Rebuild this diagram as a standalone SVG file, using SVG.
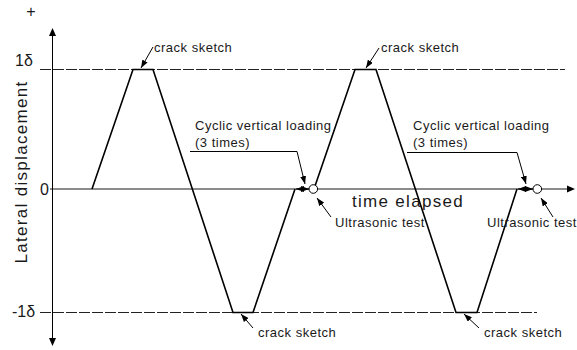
<svg xmlns="http://www.w3.org/2000/svg" width="577" height="350" viewBox="0 0 577 350">
  <defs>
    <marker id="head" viewBox="0 0 8 6" refX="8" refY="3" markerWidth="8" markerHeight="6" markerUnits="userSpaceOnUse" orient="auto-start-reverse">
      <path d="M0,0 L8,3 L0,6 z" fill="#000"/>
    </marker>
    <style>
      .lbl { font-family: "Liberation Sans", Arial, sans-serif; font-size: 13px; letter-spacing: 0.5px; fill: #1a1a1a; }
      .big { font-family: "Liberation Sans", Arial, sans-serif; font-size: 17px; letter-spacing: 1.3px; fill: #1a1a1a; }
      .ax { font-family: "Liberation Sans", Arial, sans-serif; font-size: 16px; fill: #1a1a1a; }
      .lead { fill: none; stroke: #000; stroke-width: 1; marker-end: url(#head); }
      .limit { fill: none; stroke: #222; stroke-width: 1; stroke-dasharray: 11 2; }
      .wave { fill: none; stroke: #000; stroke-width: 1.6; stroke-linejoin: miter; }
    </style>
  </defs>
  <rect width="577" height="350" fill="#fff"/>

  <!-- axes and limit lines -->
  <g id="axes">
    <line class="limit" x1="40" y1="69.5" x2="565" y2="69.5"/>
    <line class="limit" x1="40" y1="312.5" x2="537" y2="312.5"/>
    <line x1="50" y1="189" x2="568" y2="189" stroke="#666" stroke-width="1.6"/>
    <path d="M567,185.5 L575,189 L567,192.5 z" fill="#000"/>
    <line x1="52.5" y1="36" x2="52.5" y2="338" stroke="#000" stroke-width="1"/>
    <path d="M49,36 L52.5,28 L56,36 z" fill="#000"/>
    <path d="M49,338 L52.5,346 L56,338 z" fill="#000"/>
    <text class="ax" x="31" y="17" text-anchor="middle" font-size="14">+</text>
    <text class="ax" x="15" y="66">1δ</text>
    <text class="ax" x="40" y="195">0</text>
    <text class="ax" x="12" y="317">-1δ</text>
    <text class="big" transform="translate(27,172) rotate(-90)" text-anchor="middle">Lateral displacement</text>
    <text class="big" x="352" y="207">time elapsed</text>
  </g>

  <!-- displacement history -->
  <g id="history">
    <polyline class="wave" points="92,189 133,69.5 153,69.5 233,312.5 253,312.5 295,189"/>
    <polyline class="wave" points="314,189 355,69.5 376,69.5 456,312.5 477,312.5 517,189"/>
  </g>

  <!-- ultrasonic test points -->
  <g id="test-1">
    <circle cx="313.3" cy="189" r="4.3" fill="#fff" stroke="#000" stroke-width="1"/>
  </g>
  <g id="test-2">
    <circle cx="537.3" cy="189" r="4.3" fill="#fff" stroke="#000" stroke-width="1"/>
  </g>

  <!-- leaders and annotations -->
  <g id="connectors">
    <line x1="296" y1="189" x2="309" y2="189" stroke="#000" stroke-width="1" marker-start="url(#head)" marker-end="url(#head)"/>
    <line x1="518" y1="189" x2="533" y2="189" stroke="#000" stroke-width="1" marker-start="url(#head)" marker-end="url(#head)"/>
    <polyline class="lead" points="190,151.5 297,151.5 305,184"/>
    <polyline class="lead" points="407,152.5 517,152.5 526,184"/>
    <line class="lead" x1="153" y1="47" x2="141" y2="68"/>
    <line class="lead" x1="379" y1="48" x2="366" y2="68"/>
    <line class="lead" x1="253" y1="328" x2="241" y2="314"/>
    <line class="lead" x1="479" y1="328" x2="464" y2="314"/>
    <line class="lead" x1="331" y1="217" x2="317" y2="198"/>
    <line class="lead" x1="553" y1="217" x2="541" y2="198"/>
  </g>

  <g id="labels">
    <text class="lbl" x="154" y="52">crack sketch</text>
    <text class="lbl" x="381" y="52">crack sketch</text>
    <text class="lbl" x="258" y="337">crack sketch</text>
    <text class="lbl" x="484" y="337">crack sketch</text>
    <text class="lbl" x="195" y="130">Cyclic vertical loading</text>
    <text class="lbl" x="195" y="147">(3 times)</text>
    <text class="lbl" x="413" y="130">Cyclic vertical loading</text>
    <text class="lbl" x="413" y="147">(3 times)</text>
    <text class="lbl" x="335" y="227">Ultrasonic test</text>
    <text class="lbl" x="487" y="227">Ultrasonic test</text>
  </g>
</svg>
